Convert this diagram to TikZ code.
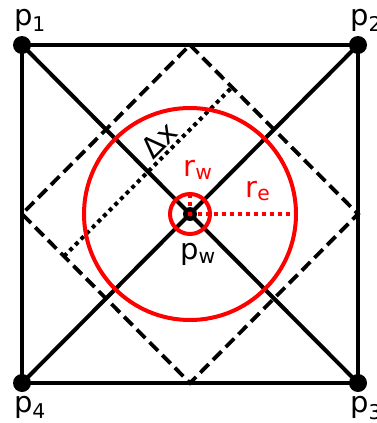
\documentclass[tikz,border=0pt]{standalone}
\usepackage{fontspec}
\setmainfont{DejaVu Sans}
\usetikzlibrary{positioning, calc}

\begin{document}
\begin{tikzpicture}[
        x=1pt, y=-1pt,
        corner/.style={
          circle,
          fill,
          inner sep=0pt,
          minimum size=18pt
        },
        centre/.style={
          circle,
          fill,
          inner sep=0pt,
          minimum size=14pt
        },
        ptext/.style={
          inner sep=0pt,
          font=\fontsize{29}{33}\selectfont
        },
        grid/.style={line width=4pt},
        cell/.style={line width=3.8pt, dash pattern=on 12pt off 6pt},
        spacing/.style={line width=4pt, dash pattern=on 4pt off 4pt},
        ring/.style={red, line width=4pt},
        radius line/.style={red, line width=4pt, dash pattern=on 4pt off 4pt}
      ]
        \useasboundingbox (0,0) rectangle (377,423);

        \coordinate (p1) at (22,45);
        \coordinate (p2) at (358,45);
        \coordinate (p3) at (358,383);
        \coordinate (p4) at (22,383);
        \coordinate (pw) at (190,214);

        \coordinate (m12) at ($(p1)!0.5!(p2)$);
        \coordinate (m23) at ($(p2)!0.5!(p3)$);
        \coordinate (m34) at ($(p3)!0.5!(p4)$);
        \coordinate (m41) at ($(p4)!0.5!(p1)$);

        % cell and diagonals
        \draw[grid] (p1) -- (p2) -- (p3) -- (p4) -- cycle;
        \draw[grid] (p1) -- (p3);
        \draw[grid] (p2) -- (p4);
        \draw[cell] (m12) -- (m23) -- (m34) -- (m41) -- cycle;

        % spacing
        \coordinate (dxa) at ($(m12)!0.25!(m23)$);
        \coordinate (dxb) at ($(m41)!0.25!(m34)$);
        \draw[spacing] (dxb) -- (dxa);
        \node[ptext, rotate=45] (dx) at (159,140) {Δx};

        % radii
        \draw[ring] (pw) circle[radius=106pt];
        \draw[ring] (pw) circle[radius=20pt];
        \coordinate (re) at ($(pw)+(106,0)$);
        \coordinate (rw) at ($(pw)+(0,-20)$);
        \draw[radius line] (pw) -- (re);
        \draw[radius line] (pw) -- (rw);
        \node[ptext, red] (rwtext) at (198,170) {r\textsubscript{w}};
        \node[ptext, red] (retext) at (258,191) {r\textsubscript{e}};

        % points
        \node[corner] (d1) at (p1) {};
        \node[corner] (d2) at (p2) {};
        \node[corner] (d3) at (p3) {};
        \node[corner] (d4) at (p4) {};
        \node[centre] (dw) at (pw) {};
        \node[circle, fill=red, inner sep=0pt, minimum size=5pt] at (pw) {};

        \node[ptext, above=4pt of d1, xshift=8pt] {p\textsubscript{1}};
        \node[ptext, above=4pt of d2, xshift=8pt] {p\textsubscript{2}};
        \node[ptext, below=4pt of d3, xshift=8pt] {p\textsubscript{3}};
        \node[ptext, below=4pt of d4, xshift=8pt] {p\textsubscript{4}};
        \node[ptext, below=22pt of dw, xshift=8pt] {p\textsubscript{w}};
      \end{tikzpicture}
\end{document}
